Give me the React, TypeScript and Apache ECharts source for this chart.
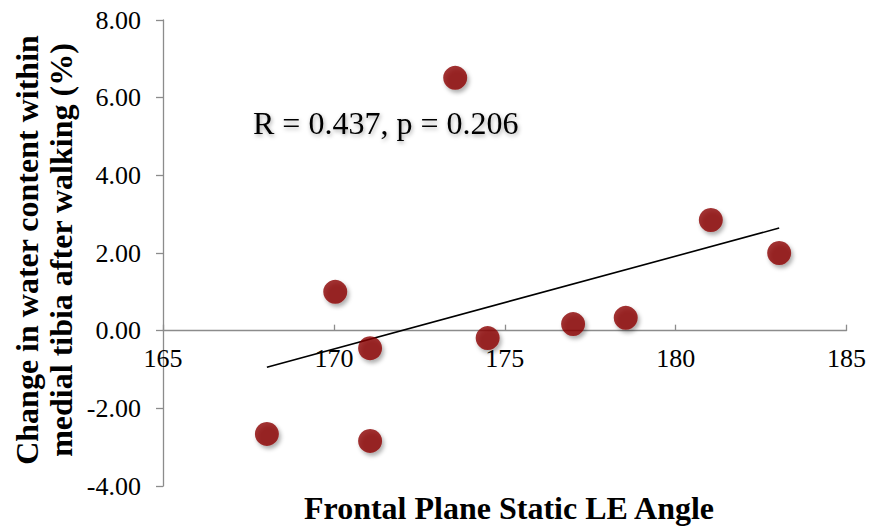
import React, { useEffect, useRef } from "react";
import * as echarts from "echarts";

const angleX = [168.04, 170.04, 171.06, 171.06, 173.55, 174.5, 177.0, 178.54, 181.03, 183.03];
const waterChange = [-2.66, 1.0, -0.45, -2.84, 6.51, -0.19, 0.17, 0.33, 2.85, 2.0];
const xTitle = "Frontal Plane Static LE Angle";
const yTitleLines = ["Change in water content within", "medial tibia after walking (%)"];
const annotation = "R = 0.437, p = 0.206";

function regression(xs: number[], ys: number[]) {
  const n = xs.length;
  const mx = xs.reduce((a, b) => a + b, 0) / n;
  const my = ys.reduce((a, b) => a + b, 0) / n;
  let sxy = 0, sxx = 0;
  for (let i = 0; i < n; i++) {
    sxy += (xs[i] - mx) * (ys[i] - my);
    sxx += (xs[i] - mx) * (xs[i] - mx);
  }
  const slope = sxy / sxx;
  const intercept = my - slope * mx;
  return { slope, intercept };
}

export default function App() {
  const ref = useRef<HTMLDivElement>(null);
  useEffect(() => {
    if (!ref.current) return;
    const chart = echarts.init(ref.current, null, { renderer: "svg" });
    const { slope, intercept } = regression(angleX, waterChange);
    const xmin = Math.min(...angleX);
    const xmax = Math.max(...angleX);
    const trend = [
      [xmin, intercept + slope * xmin],
      [xmax, intercept + slope * xmax],
    ];
    const font = "Liberation Serif";
    chart.setOption({
      animation: false,
      backgroundColor: "#ffffff",
      textStyle: { fontFamily: font },
      grid: { left: 163, right: 17, top: 20, bottom: 41, containLabel: false },
      xAxis: {
        type: "value",
        min: 165,
        max: 185,
        interval: 5,
        splitLine: { show: false },
        axisLine: { onZero: true, lineStyle: { color: "#8c8c8c", width: 1.3 } },
        axisTick: { show: true, length: 6, inside: true, lineStyle: { color: "#8c8c8c", width: 1.3 } },
        axisLabel: { color: "#000", fontSize: 26, fontFamily: font, margin: -141 },
      },
      yAxis: {
        type: "value",
        min: -4,
        max: 8,
        interval: 2,
        splitLine: { show: false },
        axisLine: { show: true, onZero: false, lineStyle: { color: "#8c8c8c", width: 1.3 } },
        axisTick: { show: true, length: 7, lineStyle: { color: "#8c8c8c", width: 1.3 } },
        axisLabel: {
          color: "#000",
          fontSize: 26,
          fontFamily: font,
          margin: 22,
          formatter: (v: number) => v.toFixed(2),
        },
      },
      series: [
        {
          type: "line",
          data: trend,
          symbol: "none",
          lineStyle: { color: "#000", width: 1.6 },
          z: 2,
        },
        {
          type: "scatter",
          data: angleX.map((x, i) => [x, waterChange[i]]),
          symbol: "circle",
          symbolSize: 24,
          itemStyle: {
            color: "#8B0000",
            shadowColor: "rgba(0,0,0,0.4)",
            shadowBlur: 4,
            shadowOffsetX: 2,
            shadowOffsetY: 3,
          },
          z: 3,
        },
      ],
      graphic: [
        {
          type: "text",
          left: 253,
          top: 107,
          style: {
            text: annotation,
            fontFamily: font,
            fontSize: 32,
            fill: "#000",
            textShadowColor: "rgba(0,0,0,0.35)",
            textShadowBlur: 4,
            textShadowOffsetX: 1,
            textShadowOffsetY: 2,
          },
        },
        {
          type: "text",
          x: 509,
          y: 508,
          style: {
            text: xTitle,
            fontFamily: font,
            fontSize: 32,
            fontWeight: "bold",
            fill: "#000",
            align: "center",
            verticalAlign: "middle",
          },
        },
        {
          type: "text",
          x: 44,
          y: 250,
          rotation: Math.PI / 2,
          style: {
            text: yTitleLines.join("\n"),
            fontFamily: font,
            fontSize: 32,
            fontWeight: "bold",
            fill: "#000",
            align: "center",
            verticalAlign: "middle",
            lineHeight: 34,
          },
        },
      ],
    });
    return () => chart.dispose();
  }, []);
  return (
    <div
      ref={ref}
      style={{ position: "fixed", left: 0, top: 0, width: 869, height: 527, background: "#fff" }}
    />
  );
}
